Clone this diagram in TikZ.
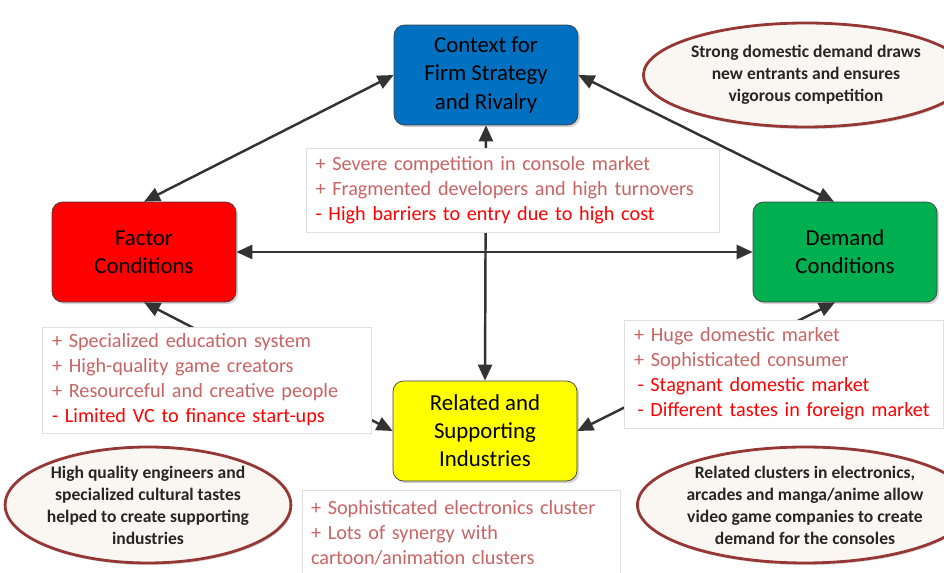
\documentclass[tikz,border=0pt]{standalone}
\usepackage{fontspec}
\setmainfont{Carlito}
\usetikzlibrary{arrows.meta,shapes.geometric,shadows}

\definecolor{ctxblue}{RGB}{0,112,192}
\definecolor{facred}{RGB}{255,0,0}
\definecolor{demgreen}{RGB}{0,176,80}
\definecolor{relyellow}{RGB}{255,255,0}
\definecolor{pluspink}{RGB}{200,100,100}
\definecolor{minusred}{RGB}{255,0,0}
\definecolor{ovalrim}{RGB}{149,55,53}
\definecolor{ovalfill}{RGB}{250,247,243}

\begin{document}
\begin{tikzpicture}[
  x=0.02cm, y=-0.02cm,
  force/.style={draw=black!75, rounded corners=6pt, minimum width=3.68cm,
                minimum height=2cm, align=center, inner sep=2pt,
                font=\fontsize{13}{16}\selectfont,
                drop shadow={shadow xshift=1.2pt, shadow yshift=-1.2pt, opacity=0.35}},
  note/.style={fill=white, draw=black!12, align=left, inner xsep=5pt,
               font=\fontsize{11.5}{14.2}\selectfont},
  oval/.style={ellipse, draw=ovalrim, line width=1.6pt, fill=ovalfill,
               inner sep=0pt, align=center, text=black!85,
               font=\fontsize{10}{12.5}\selectfont\bfseries,
               drop shadow={shadow xshift=0.6pt, shadow yshift=-1.2pt, opacity=0.3}},
  link/.style={{Triangle[length=3.2mm,width=2.8mm]}-{Triangle[length=3.2mm,width=2.8mm]},
               line width=1.4pt, draw=black!80}
]
\useasboundingbox (0,0) rectangle (944,573);

% the four corners of the diamond
\node[force, fill=ctxblue] (ctx) at (486,75) {Context for\\Firm Strategy\\and Rivalry};
\node[force, fill=facred] (fac) at (144,252) {Factor\\Conditions};
\node[force, fill=demgreen] (dem) at (845,252) {Demand\\Conditions};
\node[force, fill=relyellow] (rel) at (485,431) {Related and\\Supporting\\Industries};

% links between them
\draw[link] (fac.north) -- (ctx.west);
\draw[link] (ctx.east) -- ([xshift=-0.22cm]dem.north);
\draw[link] (fac.east) -- (dem.west);
\draw[link] (ctx.south) -- (rel.north);
\draw[link] (fac.south) -- (rel.west);
\draw[link] ([xshift=-0.2cm]dem.south) -- (rel.east);

% pros and cons
\node[note, minimum width=8.26cm, minimum height=1.68cm, text width=7.9cm] (ctxnote) at (513,190)
  {\color{pluspink}+ Severe competition in console market\\
   \color{pluspink}+ Fragmented developers and high turnovers\\
   \color{minusred}- High barriers to entry due to high cost};
\node[note, minimum width=6.58cm, minimum height=2.12cm, text width=6.2cm] (facnote) at (207,380)
  {\color{pluspink}+ Specialized education system\\
   \color{pluspink}+ High-quality game creators\\
   \color{pluspink}+ Resourceful and creative people\\
   \color{minusred}- Limited VC to finance start-ups};
\node[note, minimum width=6.38cm, minimum height=2.16cm, text width=6.0cm] (demnote) at (784,374)
  {\color{pluspink}+ Huge domestic market\\
   \color{pluspink}+ Sophisticated consumer\\
   \color{minusred}\hspace{2pt}- Stagnant domestic market\\
   \color{minusred}\hspace{2pt}- Different tastes in foreign market};
\node[note, minimum width=6.36cm, minimum height=1.7cm, text width=6.0cm] (relnote) at (461,533)
  {\color{pluspink}+ Sophisticated electronics cluster\\
   \color{pluspink}+ Lots of synergy with\\
   \color{pluspink}cartoon/animation clusters};

% comments
\node[oval, minimum width=5.52cm, minimum height=2.08cm] (ovaltop) at (806,75)
  {Strong domestic demand draws\\new entrants and ensures\\vigorous competition};
\node[oval, minimum width=5.52cm, minimum height=2.32cm] (ovalleft) at (148,505)
  {High quality engineers and\\specialized cultural tastes\\helped to create supporting\\industries};
\node[oval, minimum width=5.6cm, minimum height=2.32cm] (ovalright) at (805,505)
  {Related clusters in electronics,\\arcades and manga/anime allow\\video game companies to create\\demand for the consoles};
\end{tikzpicture}
\end{document}
